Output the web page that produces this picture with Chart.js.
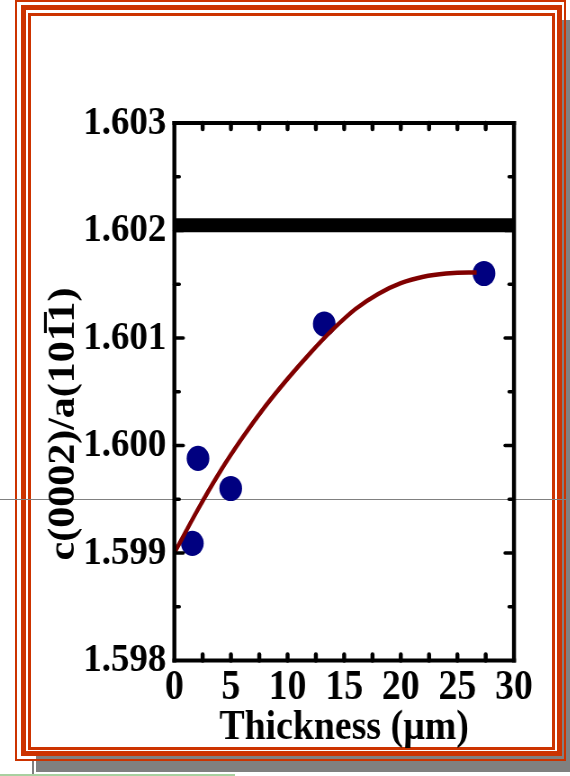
<!DOCTYPE html>
<html>
<head>
<meta charset="utf-8">
<script src="https://cdn.jsdelivr.net/npm/chart.js@4"></script>
<style>
html,body{margin:0;padding:0;background:#fff;width:570px;height:776px;overflow:hidden;}
.abs{position:absolute;}
#shadow{left:36px;top:20px;width:534px;height:752px;background:#808080;}
#fill{left:15px;top:0;width:547px;height:756px;background:#fff;}
#outer{left:15px;top:0;width:551px;height:761px;border:2px solid #cc3300;box-sizing:border-box;}
#thick{left:21px;top:5px;width:541px;height:751px;border:5px solid #cc3300;box-sizing:border-box;}
#inner{left:28px;top:13px;width:527px;height:737px;border:3px solid #cc3300;box-sizing:border-box;}
#hline{left:0;top:499px;width:570px;height:1px;background:#808080;}
#vline{left:32px;top:761px;width:2px;height:15px;background:#808080;}
#gline{left:0;top:774px;width:235px;height:2px;background:#a8d0a0;}
#wrap{left:0;top:0;width:634px;height:776px;transform:scaleX(0.9);transform-origin:0 0;}
</style>
</head>
<body>
<div id="shadow" class="abs"></div>
<div id="fill" class="abs"></div>
<div id="outer" class="abs"></div>
<div id="thick" class="abs"></div>
<div id="inner" class="abs"></div>
<div id="hline" class="abs"></div>
<div id="vline" class="abs"></div>
<div id="gline" class="abs"></div>
<div id="wrap" class="abs"><canvas id="c" width="634" height="776"></canvas></div>
<script>
// ---- data ----
const thickness = [1.59, 2.09, 4.98, 13.24, 27.35];
const ratio = [1.59909, 1.59988, 1.59960, 1.60113, 1.60160];

const fitThickness = [0, 2, 4, 6, 8, 10, 12, 14, 16, 18, 20, 22, 24, 26, 26.7];
const fitRatio = [1.59900, 1.59939, 1.59975, 1.60007, 1.60036, 1.60062, 1.60086, 1.60108, 1.60127, 1.60141, 1.60151, 1.60157, 1.60160, 1.60161, 1.60161];

const bulkThickness = [0, 30];
const bulkRatio = [1.60205, 1.60205];

const xTickValues = [0, 5, 10, 15, 20, 25, 30];
const yTickValues = [1.598, 1.599, 1.600, 1.601, 1.602, 1.603];

const xTitle = 'Thickness (\u00B5m)';
const yTitle = 'c(0002)/a(101\u03051)';

// ---- drawing ----
const SX = 0.9;
const FONT = 'Liberation Serif';

const boxAndTicks = {
  id: 'boxAndTicks',
  afterDatasetsDraw(chart) {
    const {ctx, chartArea: a, scales: {x, y}} = chart;
    ctx.save();
    ctx.strokeStyle = '#000';
    ctx.lineCap = 'round';
    ctx.lineWidth = 4 / SX;
    const xs = [];
    for (let i = 0; i < xTickValues.length - 1; i++) {
      xs.push((xTickValues[i] + xTickValues[i + 1]) / 2);
      if (i > 0) xs.push(xTickValues[i]);
    }
    xs.forEach(v => {
      const px = x.getPixelForValue(v);
      ctx.beginPath(); ctx.moveTo(px, a.top); ctx.lineTo(px, a.top + 6); ctx.stroke();
      ctx.beginPath(); ctx.moveTo(px, a.bottom); ctx.lineTo(px, a.bottom - 6); ctx.stroke();
    });
    ctx.lineWidth = 3.6;
    const ys = [];
    for (let i = 0; i < yTickValues.length - 1; i++) {
      ys.push([(yTickValues[i] + yTickValues[i + 1]) / 2, 5.5]);
      if (i > 0) ys.push([yTickValues[i], 10]);
    }
    ys.forEach(([v, len]) => {
      const py = y.getPixelForValue(v);
      ctx.beginPath(); ctx.moveTo(a.left, py); ctx.lineTo(a.left + len, py); ctx.stroke();
      ctx.beginPath(); ctx.moveTo(a.right, py); ctx.lineTo(a.right - len, py); ctx.stroke();
    });
    ctx.lineCap = 'butt';
    ctx.lineWidth = 4;
    ctx.beginPath();
    ctx.moveTo(a.left - 2.2, a.top); ctx.lineTo(a.right + 2.2, a.top);
    ctx.moveTo(a.left - 2.2, a.bottom); ctx.lineTo(a.right + 2.2, a.bottom);
    ctx.stroke();
    ctx.lineWidth = 4 / SX;
    ctx.beginPath();
    ctx.moveTo(a.left, a.top - 2); ctx.lineTo(a.left, a.bottom + 2);
    ctx.moveTo(a.right, a.top - 2); ctx.lineTo(a.right, a.bottom + 2);
    ctx.stroke();
    ctx.restore();
  },
  afterDraw(chart) {
    const ctx = chart.ctx;
    ctx.save();
    ctx.translate(71, 424);
    ctx.rotate(-Math.PI / 2);
    ctx.fillStyle = '#000';
    ctx.font = 'bold 42px "' + FONT + '"';
    ctx.textAlign = 'center';
    ctx.textBaseline = 'middle';
    ctx.fillText(yTitle, 0, 0);
    ctx.restore();
  }
};

new Chart(document.getElementById('c'), {
  type: 'line',
  data: {
    datasets: [
      {
        label: 'fit',
        data: fitThickness.map((v, i) => ({x: v, y: fitRatio[i]})),
        borderColor: '#800000',
        borderWidth: 4.5,
        pointRadius: 0,
        cubicInterpolationMode: 'monotone',
        fill: false,
        order: 0
      },
      {
        label: 'measured',
        data: thickness.map((v, i) => ({x: v, y: ratio[i]})),
        showLine: false,
        backgroundColor: '#000080',
        borderColor: '#000080',
        borderWidth: 0,
        pointRadius: 12.6,
        pointHoverRadius: 12.6,
        order: 1
      },
      {
        label: 'bulk',
        data: bulkThickness.map((v, i) => ({x: v, y: bulkRatio[i]})),
        borderColor: '#000',
        borderWidth: 14,
        borderCapStyle: 'butt',
        pointRadius: 0,
        fill: false,
        order: 2
      }
    ]
  },
  options: {
    responsive: false,
    animation: false,
    events: [],
    layout: {padding: {left: 0, top: 123, right: 62.9, bottom: 0}},
    plugins: {legend: {display: false}, tooltip: {enabled: false}},
    scales: {
      x: {
        type: 'linear', min: 0, max: 30,
        afterBuildTicks: s => { s.ticks = xTickValues.map(v => ({value: v})); },
        afterFit: s => { s.height = 115.5; },
        grid: {display: false, drawTicks: false},
        border: {display: false},
        ticks: {padding: 2, color: '#000', maxRotation: 0, autoSkip: false,
          font: {family: FONT, size: 42, weight: 'bold'}},
        title: {display: true, text: xTitle, color: '#000',
          font: {family: FONT, size: 42, weight: 'bold'}, padding: {top: 0, bottom: 23}}
      },
      y: {
        type: 'linear', min: 1.598, max: 1.603,
        afterBuildTicks: s => { s.ticks = yTickValues.map(v => ({value: v})); },
        afterFit: s => { s.width = 193.7; },
        grid: {display: false, drawTicks: false},
        border: {display: false},
        ticks: {padding: 9, color: '#000', autoSkip: false,
          font: {family: FONT, size: 41, weight: 'bold'},
          callback: v => Number(v).toFixed(3)}
      }
    }
  },
  plugins: [boxAndTicks]
});
</script>
</body>
</html>
